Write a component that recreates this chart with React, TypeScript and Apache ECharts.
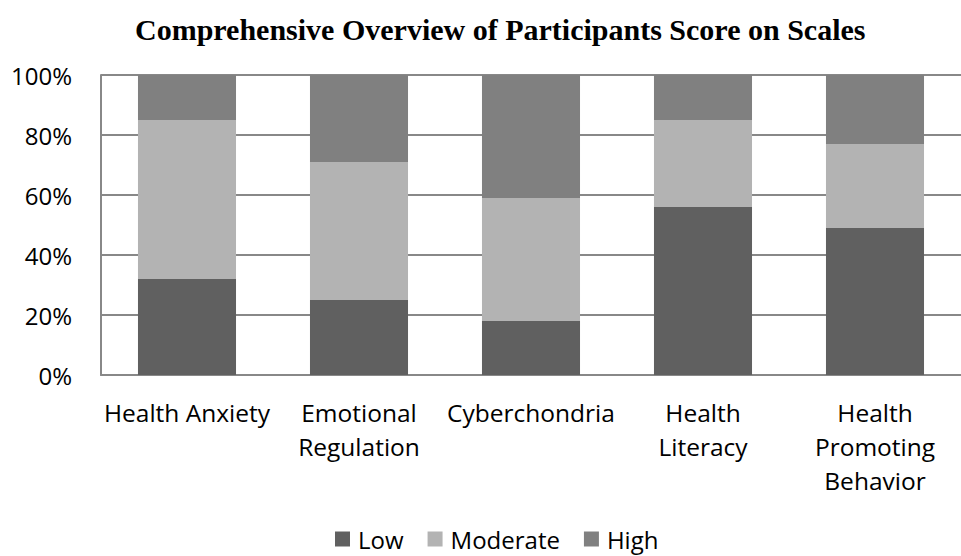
import React, { useEffect, useRef } from "react";
import * as echarts from "echarts";

const categories = ["Health Anxiety", "Emotional\nRegulation", "Cyberchondria", "Health\nLiteracy", "Health\nPromoting\nBehavior"];
const lowValues = [32, 25, 18, 56, 49];
const moderateValues = [53, 46, 41, 29, 28];
const highValues = [15, 29, 41, 15, 23];
const yTicks = [0, 20, 40, 60, 80, 100];

const FONT = "'Open Sans', Lato, sans-serif";

export default function App() {
  const ref = useRef<HTMLDivElement>(null);
  useEffect(() => {
    const chart = echarts.init(ref.current!, null, { renderer: "svg" });
    const mk = (name: string, data: number[], color: string) => ({
      name,
      type: "bar",
      stack: "total",
      data,
      barWidth: "57%",
      itemStyle: { color },
    });
    chart.setOption({
      animation: false,
      backgroundColor: "#ffffff",
      title: {
        text: "Comprehensive Overview of Participants Score on Scales",
        left: 130,
        top: 9,
        textStyle: { fontFamily: "'Liberation Serif', 'Times New Roman', serif", fontWeight: "bold", fontSize: 30, color: "#000" },
      },
      legend: {
        top: 525,
        left: 335,
        itemWidth: 15,
        itemHeight: 15,
        itemGap: 24,
        icon: "rect",
        padding: 0,
        textStyle: { fontFamily: FONT, fontSize: 24, lineHeight: 28, color: "#000", padding: [0, 0, 0, 3] },
        data: ["Low", "Moderate", "High"],
      },
      grid: { left: 101, right: -10, top: 75, bottom: 181, containLabel: false },
      xAxis: {
        type: "category",
        data: categories,
        axisLine: { lineStyle: { color: "#888", width: 2 } },
        axisTick: { show: false },
        axisLabel: { fontFamily: FONT, fontSize: 24.5, color: "#000", lineHeight: 34, margin: 20, interval: 0 },
      },
      yAxis: {
        type: "value",
        min: yTicks[0],
        max: yTicks[yTicks.length - 1],
        interval: 20,
        axisLine: { show: true, lineStyle: { color: "#888", width: 2 } },
        axisTick: { show: false },
        splitLine: { lineStyle: { color: "#888", width: 2 } },
        axisLabel: { fontFamily: FONT, fontSize: 24, color: "#000", margin: 29, formatter: "{value}%" },
      },
      series: [
        mk("Low", lowValues, "#606060"),
        mk("Moderate", moderateValues, "#b3b3b3"),
        mk("High", highValues, "#808080"),
      ],
    });
    return () => chart.dispose();
  }, []);
  return <div ref={ref} style={{ width: 961, height: 556, position: "absolute", left: 0, top: 0 }} />;
}
